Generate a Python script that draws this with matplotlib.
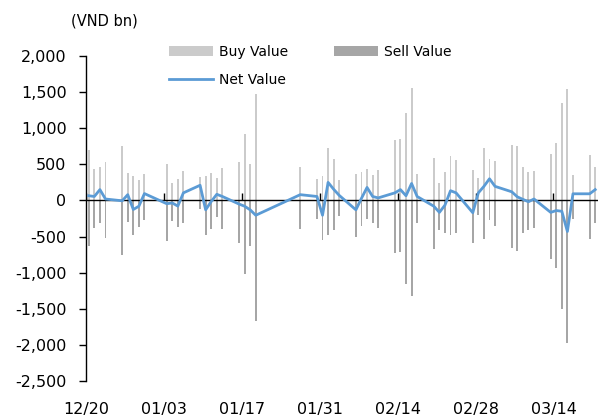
import matplotlib
matplotlib.use("Agg")
import matplotlib.pyplot as plt
import numpy as np
import pandas as pd
from matplotlib.ticker import FuncFormatter

# trading days, 2022-12-20 .. 2023-03-21 (VND bn)
dates = ["2022-12-20", "2022-12-21", "2022-12-22", "2022-12-23", "2022-12-26",
         "2022-12-27", "2022-12-28", "2022-12-29", "2022-12-30",
         "2023-01-03", "2023-01-04", "2023-01-05", "2023-01-06",
         "2023-01-09", "2023-01-10", "2023-01-11", "2023-01-12", "2023-01-13",
         "2023-01-16", "2023-01-17", "2023-01-18", "2023-01-19",
         "2023-01-27", "2023-01-30", "2023-01-31",
         "2023-02-01", "2023-02-02", "2023-02-03",
         "2023-02-06", "2023-02-07", "2023-02-08", "2023-02-09", "2023-02-10",
         "2023-02-13", "2023-02-14", "2023-02-15", "2023-02-16", "2023-02-17",
         "2023-02-20", "2023-02-21", "2023-02-22", "2023-02-23", "2023-02-24",
         "2023-02-27", "2023-02-28", "2023-03-01", "2023-03-02", "2023-03-03",
         "2023-03-06", "2023-03-07", "2023-03-08", "2023-03-09", "2023-03-10",
         "2023-03-13", "2023-03-14", "2023-03-15", "2023-03-16", "2023-03-17",
         "2023-03-20", "2023-03-21"]

buy_value = [697, 429, 466, 536, 748, 374, 342, 282, 360,
             508, 245, 291, 411,
             323, 342, 374, 309, 448,
             526, 914, 499, 1468,
             466, 300, 337,
             729, 568, 277,
             369, 397, 439, 355, 425,
             831, 854, 1214, 1560, 369,
             582, 235, 397, 614, 559,
             416, 305, 729, 577, 540,
             771, 753, 462, 397, 402,
             637, 799, 1344, 1537, 351,
             633, 457]

sell_value = [-632, -379, -319, -526, -757, -300, -476, -365, -272,
              -559, -282, -369, -309,
              -115, -480, -392, -226, -392,
              -596, -1025, -633, -1671,
              -392, -254, -549,
              -485, -411, -217,
              -503, -355, -263, -309, -388,
              -725, -716, -1150, -1325, -319,
              -670, -411, -457, -480, -457,
              -586, -203, -540, -277, -355,
              -656, -702, -448, -416, -388,
              -817, -942, -1500, -1971, -263,
              -540, -319]

net_value = [65, 55, 150, 20, -5, 80, -125, -80, 95,
             -45, -35, -78, 105,
             210, -130, -15, 85, 55,
             -50, -80, -130, -205,
             80, 55, -205,
             250, 155, 70,
             -130, 30, 180, 55, 35,
             105, 150, 65, 235, 55,
             -80, -165, -65, 135, 105,
             -170, 105, 195, 300, 195,
             120, 50, 15, -18, 20,
             -165, -140, -150, -430, 92,
             92, 150]

tick_dates = ["2022-12-20", "2023-01-03", "2023-01-17", "2023-01-31",
              "2023-02-14", "2023-02-28", "2023-03-14"]

start = pd.Timestamp("2022-12-20")
days = (pd.to_datetime(dates) - start).days.to_numpy()
x = days + 0.5  # each day is one slot on the date axis
tick_x = (pd.to_datetime(tick_dates) - start).days.to_numpy()
tick_labels = [pd.Timestamp(d).strftime("%m/%d") for d in tick_dates]

plt.rcParams["font.family"] = ["DejaVu Sans"]

fig = plt.figure(figsize=(6.05, 4.18), dpi=100)
ax = fig.add_axes([86 / 605, 1 - 381 / 418, (598 - 86) / 605, (381 - 56) / 418])

b_buy = ax.bar(x, buy_value, width=0.35, color="#cbcbcb", zorder=1)
b_sell = ax.bar(x, sell_value, width=0.35, color="#a6a6a6", zorder=1)
ax.axhline(0, color="black", lw=1.0, zorder=2)
ax.plot(tick_x, np.zeros(len(tick_x)), linestyle="none", marker=2,
        markersize=5, color="black", markeredgewidth=1.0, zorder=2)
l_net, = ax.plot(x, net_value, color="#5b9bd5", lw=2.0, zorder=3)

ax.set_xlim(0, 92)
ax.set_ylim(-2500, 2000)
ax.set_yticks(np.arange(-2500, 2001, 500))
ax.yaxis.set_major_formatter(FuncFormatter(lambda v, p: f"{v:,.0f}"))
ax.set_xticks(tick_x)
ax.set_xticklabels(tick_labels)

for s in ("top", "right", "bottom"):
    ax.spines[s].set_visible(False)
ax.spines["left"].set_linewidth(1.0)
ax.tick_params(axis="y", direction="out", length=5, width=1.0, labelsize=11.5, pad=9)
ax.tick_params(axis="x", length=0, labelsize=11.5, pad=15)

fig.text(71 / 605, 1 - 21 / 418, "(VND bn)", fontsize=10.5, va="center", ha="left")

# Buy, Net in first column; Sell in second
fig.legend([b_buy, l_net, b_sell], ["Buy Value", "Net Value", "Sell Value"], ncol=2,
           loc="upper left", bbox_to_anchor=(162 / 605, 1 - 38 / 418),
           frameon=False, fontsize=10, handlelength=3.2, handleheight=0.7,
           handletextpad=0.4, columnspacing=3.3, labelspacing=1.0, borderpad=0)

fig.savefig("out.png", dpi=100)
